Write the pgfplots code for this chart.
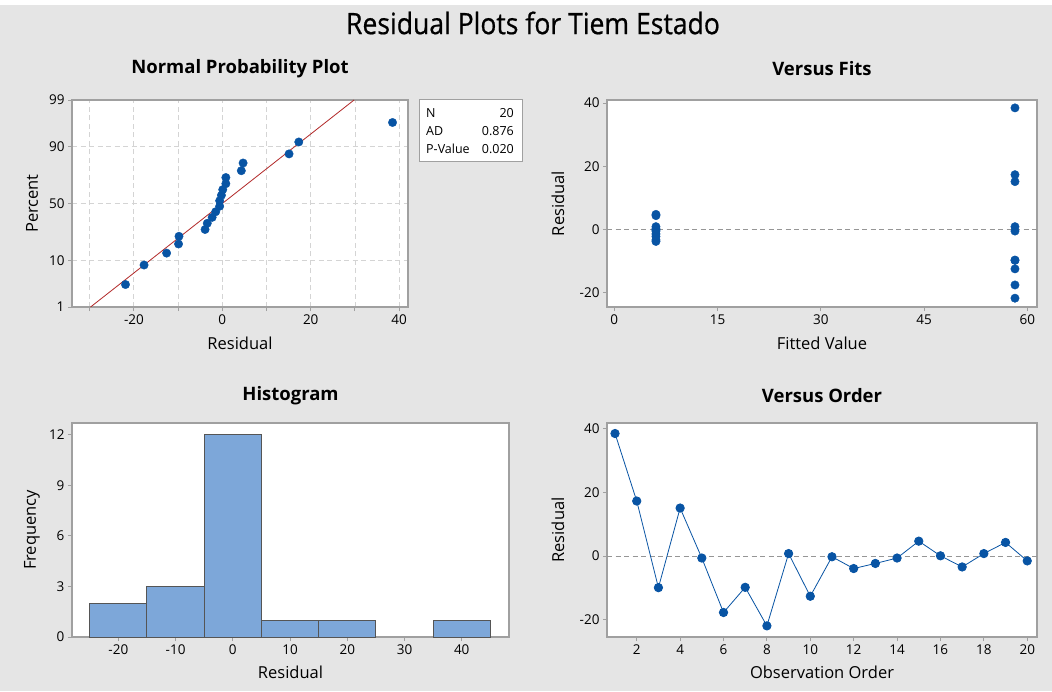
\documentclass[border=0pt]{standalone}
\usepackage{pgfplots}
\pgfplotsset{compat=1.18}
\usepackage{fontspec}
\setmainfont{Open Sans}
\newfontfamily\titlefont[FakeStretch=0.9, FakeBold=0.6]{Open Sans}
\definecolor{bg}{RGB}{229,229,229}
\definecolor{border}{RGB}{160,160,160}
\definecolor{mblue}{RGB}{8,84,164}
\definecolor{barfill}{RGB}{125,167,217}
\definecolor{baredge}{RGB}{85,85,85}
\definecolor{fitred}{RGB}{178,40,40}
\definecolor{gridc}{RGB}{212,212,212}
\definecolor{zeroc}{RGB}{150,150,150}

\pgfplotsset{
  mini/.style={
    scale only axis,
    anchor=south west,
    axis background/.style={fill=white},
    axis line style={draw=border, line width=1.1pt},
    every tick/.style={draw=border, line width=0.9pt},
    tick align=outside,
    major tick length=4pt,
    minor tick length=4pt,
    xtick pos=lower, ytick pos=left,
    /pgf/number format/assume math mode=true,
    ticklabel style={font=\fontsize{13.5}{15}\selectfont, text=black},
    label style={font=\fontsize{16.5}{18}\selectfont, text=black},
    grid style={gridc, dash pattern=on 5pt off 3.5pt, line width=0.8pt},
    clip=false,
  },
}
\tikzset{ptitle/.style={font=\bfseries\fontsize{18.5}{20}\selectfont, anchor=center, inner sep=0pt}}

\pgfplotstableread{
res z
-21.9 -1.8210
-17.7 -1.3830
-12.6 -1.1150
-9.9 -0.9100
-9.8 -0.7370
-3.9 -0.5840
-3.4 -0.4450
-2.3 -0.3120
-1.5 -0.1850
-0.6 -0.0615
-0.6 0.0615
-0.2 0.1850
0.1 0.3120
0.8 0.4450
0.8 0.5840
4.3 0.7370
4.7 0.9100
15.1 1.1150
17.3 1.3830
38.5 1.8210
}\npp

\pgfplotstableread{
obs fit res
1 58.2 38.5
2 58.2 17.3
3 58.2 -9.9
4 58.2 15.1
5 58.2 -0.6
6 58.2 -17.7
7 58.2 -9.8
8 58.2 -21.9
9 58.2 0.8
10 58.2 -12.6
11 6.05 -0.2
12 6.05 -3.9
13 6.05 -2.3
14 6.05 -0.6
15 6.05 4.7
16 6.05 0.1
17 6.05 -3.4
18 6.05 0.8
19 6.05 4.3
20 6.05 -1.5
}\resid

\begin{document}
\begin{tikzpicture}
\path[use as bounding box, fill=bg] (0pt,0pt) rectangle (1052pt,-691pt);
\fill[white] (0pt,0pt) rectangle (1052pt,-5pt);
\node[font=\titlefont\fontsize{29.5}{33}\selectfont] at (533pt,-23pt) {Residual Plots for Tiem Estado};

% Normal probability plot
\begin{axis}[mini, at={(72pt,-307pt)}, width=336pt, height=207pt,
  xmin=-34, xmax=42, ymin=-2.3263, ymax=2.3263,
  xtick={-20,0,20,40}, minor xtick={-30,-10,10,30},
  ytick={-2.3263,-1.2816,0,1.2816,2.3263}, yticklabels={1,10,50,90,99},
  xmajorgrids, xminorgrids, ymajorgrids,
  xlabel={Residual}, xlabel style={at={(axis description cs:0.5,-0.174)}, anchor=center},
  ylabel={Percent}, ylabel style={at={(axis description cs:-0.119,0.5)}, anchor=center}]
\addplot[fitred, line width=0.8pt] coordinates {(-29.8,-2.3263) (29.8,2.3263)};
\addplot[only marks, mark=*, mark size=4.2pt, mblue, mark options={draw=mblue, fill=mblue}] table[x=res, y=z] {\npp};
\node[ptitle] at (rel axis cs:0.5,1.15) {Normal Probability Plot};
\end{axis}
\draw[border, line width=1pt, fill=white] (419pt,-99pt) rectangle (522pt,-161pt);
\begin{scope}[every node/.style={font=\fontsize{12.5}{14}\selectfont, inner sep=0pt}]
\node[anchor=west] at (426pt,-113pt) {N};
\node[anchor=west] at (426pt,-131pt) {AD};
\node[anchor=west] at (426pt,-149pt) {P-Value};
\node[anchor=east] at (514pt,-113pt) {20};
\node[anchor=east] at (514pt,-131pt) {0.876};
\node[anchor=east] at (514pt,-149pt) {0.020};
\end{scope}

% Versus fits
\begin{axis}[mini, at={(607pt,-307pt)}, width=430pt, height=207pt,
  xmin=-1.06, xmax=61.4, ymin=-24.7, ymax=41,
  xtick={0,15,30,45,60}, ytick={-20,0,20,40},
  xlabel={Fitted Value}, xlabel style={at={(axis description cs:0.5,-0.174)}, anchor=center},
  ylabel={Residual}, ylabel style={at={(axis description cs:-0.114,0.5)}, anchor=center}]
\addplot[zeroc, dash pattern=on 5pt off 3.5pt, line width=0.9pt] coordinates {(-1.06,0) (61.4,0)};
\addplot[only marks, mark=*, mark size=4.2pt, mblue, mark options={draw=mblue, fill=mblue}] table[x=fit, y=res] {\resid};
\node[ptitle] at (rel axis cs:0.5,1.15) {Versus Fits};
\end{axis}

% Histogram
\begin{axis}[mini, at={(72pt,-637pt)}, width=437pt, height=214pt,
  xmin=-28.1, xmax=48.26, ymin=0, ymax=12.7,
  xtick={-20,-10,0,10,20,30,40}, ytick={0,3,6,9,12},
  xlabel={Residual}, xlabel style={at={(axis description cs:0.5,-0.164)}, anchor=center},
  ylabel={Frequency}, ylabel style={at={(axis description cs:-0.0915,0.5)}, anchor=center}]
\addplot[ybar interval, fill=barfill, draw=baredge, line width=1pt] coordinates {(-25,2) (-15,3) (-5,12) (5,1) (15,1) (25,1)};
\addplot[ybar interval, fill=barfill, draw=baredge, line width=1pt] coordinates {(35,1) (45,1)};
\node[ptitle] at (rel axis cs:0.5,1.126) {Histogram};
\end{axis}

% Versus order
\begin{axis}[mini, at={(607pt,-637pt)}, width=430pt, height=214pt,
  xmin=0.63, xmax=20.45, ymin=-25.4, ymax=41.8,
  xtick={2,4,...,20}, ytick={-20,0,20,40},
  xlabel={Observation Order}, xlabel style={at={(axis description cs:0.5,-0.164)}, anchor=center},
  ylabel={Residual}, ylabel style={at={(axis description cs:-0.114,0.5)}, anchor=center}]
\addplot[zeroc, dash pattern=on 5pt off 3.5pt, line width=0.9pt] coordinates {(0.63,0) (20.45,0)};
\addplot[mblue, line width=0.8pt, mark=*, mark size=4.2pt, mark options={solid, draw=mblue, fill=mblue}] table[x=obs, y=res] {\resid};
\node[ptitle] at (rel axis cs:0.5,1.126) {Versus Order};
\end{axis}
\end{tikzpicture}
\end{document}
